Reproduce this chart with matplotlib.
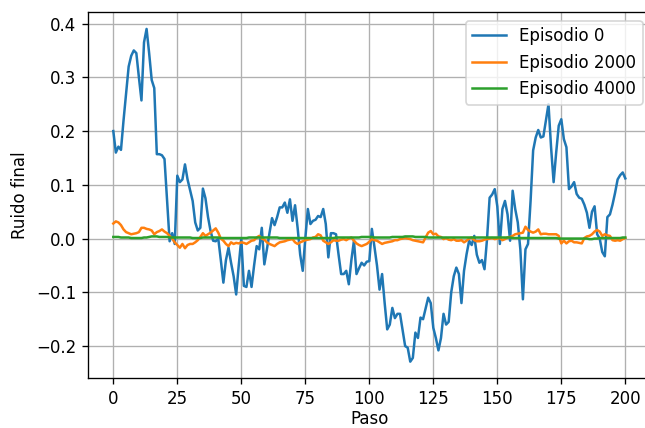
import numpy as np
from matplotlib import pyplot as plt

PASOS = np.arange(201)

RUIDO_EP0 = [
    0.200, 0.160, 0.171, 0.165, 0.220, 0.270, 0.320, 0.340, 0.350, 0.345,
    0.300, 0.257, 0.365, 0.390, 0.345, 0.295, 0.280, 0.157, 0.157, 0.155,
    0.148, 0.070, -0.005, 0.010, -0.010, 0.117, 0.105, 0.110, 0.138, 0.110,
    0.090, 0.070, 0.030, 0.015, 0.020, 0.093, 0.075, 0.040, 0.014, -0.004,
    -0.005, 0.000, -0.040, -0.082, -0.040, -0.017, -0.045, -0.070, -0.104, -0.050,
    0.000, -0.088, -0.090, -0.060, -0.090, -0.050, -0.014, -0.020, 0.020, -0.048,
    -0.020, 0.010, 0.038, 0.025, 0.040, 0.058, 0.058, 0.067, 0.048, 0.073,
    0.033, 0.062, 0.020, -0.030, -0.060, 0.000, 0.055, 0.027, 0.033, 0.035,
    0.042, 0.040, 0.055, 0.027, -0.035, 0.010, 0.010, 0.008, -0.030, -0.066,
    -0.066, -0.060, -0.085, -0.040, -0.004, -0.066, -0.055, -0.045, -0.050, -0.043,
    -0.042, 0.018, -0.015, -0.050, -0.095, -0.066, -0.120, -0.169, -0.160, -0.129,
    -0.148, -0.140, -0.140, -0.170, -0.200, -0.203, -0.229, -0.222, -0.175, -0.185,
    -0.147, -0.150, -0.130, -0.110, -0.120, -0.166, -0.185, -0.208, -0.185, -0.140,
    -0.160, -0.155, -0.100, -0.070, -0.054, -0.066, -0.120, -0.060, -0.029, -0.004,
    -0.012, 0.005, -0.030, -0.045, -0.040, -0.057, 0.000, 0.076, 0.082, 0.092,
    0.060, -0.010, 0.055, 0.070, 0.045, -0.004, 0.089, 0.055, 0.030, -0.020,
    -0.113, -0.020, -0.010, 0.070, 0.164, 0.188, 0.202, 0.188, 0.190, 0.220,
    0.250, 0.170, 0.105, 0.160, 0.210, 0.222, 0.185, 0.170, 0.092, 0.097,
    0.105, 0.083, 0.076, 0.074, 0.063, 0.048, 0.020, 0.050, 0.060, 0.008,
    0.000, -0.025, -0.033, 0.040, 0.045, 0.063, 0.085, 0.110, 0.118, 0.123,
    0.112,
]

RUIDO_EP2000 = [
    0.028, 0.032, 0.030, 0.025, 0.017, 0.012, 0.010, 0.008, 0.009, 0.010,
    0.012, 0.020, 0.020, 0.018, 0.017, 0.015, 0.008, 0.012, 0.014, 0.017,
    0.013, 0.010, 0.005, 0.000, -0.007, -0.012, -0.017, -0.010, -0.018, -0.012,
    -0.010, -0.010, -0.007, -0.003, 0.003, 0.010, 0.005, 0.008, 0.011, 0.015,
    0.019, 0.011, 0.000, -0.004, -0.010, -0.014, -0.007, -0.010, -0.008, -0.009,
    -0.007, -0.008, -0.010, -0.007, -0.004, -0.003, 0.002, 0.005, 0.000, -0.002,
    -0.007, -0.010, -0.012, -0.014, -0.010, -0.007, -0.006, -0.005, -0.003, -0.002,
    -0.001, -0.007, -0.010, -0.007, -0.005, -0.003, -0.002, -0.001, 0.002, 0.003,
    0.008, 0.006, -0.004, -0.007, -0.010, -0.007, -0.003, -0.004, -0.004, -0.002,
    -0.001, -0.003, 0.000, 0.002, -0.004, -0.009, -0.012, -0.014, -0.012, -0.010,
    -0.006, -0.001, -0.003, -0.004, -0.007, -0.010, -0.008, -0.007, -0.006, -0.005,
    -0.003, -0.003, -0.001, 0.000, 0.001, 0.000, -0.001, -0.003, -0.004, -0.005,
    -0.006, -0.007, 0.002, 0.011, 0.014, 0.008, 0.009, 0.004, 0.003, -0.001,
    0.001, -0.002, -0.003, -0.001, -0.004, -0.004, -0.003, -0.007, -0.004, 0.000,
    0.002, -0.003, -0.005, -0.005, -0.004, -0.002, -0.001, 0.000, 0.001, -0.001,
    0.000, 0.001, -0.003, -0.001, 0.002, 0.003, 0.005, 0.008, 0.009, 0.010,
    0.011, 0.022, 0.016, 0.013, 0.011, 0.013, 0.017, 0.008, 0.009, 0.009,
    0.008, 0.008, 0.008, 0.008, 0.005, -0.009, -0.004, -0.009, -0.005, -0.004,
    -0.007, -0.007, -0.008, -0.009, 0.001, 0.004, 0.005, 0.008, 0.013, 0.016,
    0.013, 0.005, 0.008, 0.006, 0.005, -0.003, -0.004, -0.003, -0.004, -0.001,
    0.001,
]

RUIDO_EP4000 = [
    0.003, 0.003, 0.003, 0.002, 0.002, 0.002, 0.002, 0.001, 0.001, 0.001,
    0.001, 0.001, 0.002, 0.002, 0.003, 0.004, 0.004, 0.004, 0.003, 0.003,
    0.003, 0.003, 0.002, 0.002, 0.002, 0.002, 0.002, 0.002, 0.002, 0.002,
    0.002, 0.001, 0.001, 0.001, 0.001, 0.002, 0.002, 0.002, 0.002, 0.002,
    0.002, 0.002, 0.001, 0.001, 0.001, 0.001, 0.001, 0.001, 0.001, 0.001,
    0.001, 0.001, 0.001, 0.002, 0.002, 0.002, 0.002, 0.002, 0.002, 0.002,
    0.002, 0.002, 0.002, 0.002, 0.002, 0.001, 0.001, 0.001, 0.001, 0.001,
    0.001, 0.001, 0.001, 0.001, 0.001, 0.001, 0.001, 0.001, 0.001, 0.001,
    0.001, 0.001, 0.001, 0.001, 0.001, 0.001, 0.001, 0.002, 0.002, 0.002,
    0.002, 0.002, 0.002, 0.002, 0.002, 0.002, 0.002, 0.003, 0.003, 0.003,
    0.003, 0.003, 0.002, 0.002, 0.002, 0.002, 0.002, 0.002, 0.002, 0.003,
    0.003, 0.003, 0.003, 0.003, 0.004, 0.004, 0.004, 0.004, 0.003, 0.003,
    0.003, 0.003, 0.003, 0.002, 0.002, 0.002, 0.002, 0.002, 0.002, 0.002,
    0.002, 0.002, 0.002, 0.002, 0.002, 0.002, 0.002, 0.002, 0.002, 0.002,
    0.002, 0.002, 0.002, 0.002, 0.002, 0.002, 0.002, 0.002, 0.002, 0.002,
    0.002, 0.002, 0.002, 0.002, 0.002, 0.002, 0.001, 0.001, 0.001, 0.001,
    0.001, 0.001, 0.001, 0.001, 0.001, 0.001, 0.001, 0.001, 0.001, 0.001,
    0.001, 0.001, 0.001, 0.001, 0.000, 0.000, 0.000, 0.000, 0.000, 0.000,
    0.000, 0.000, 0.000, 0.000, 0.000, 0.000, -0.001, -0.001, 0.000, 0.000,
    0.001, 0.001, 0.001, 0.001, 0.001, 0.001, 0.001, 0.001, 0.001, 0.002,
    0.002,
]

SERIES = [
    ("Episodio 0", RUIDO_EP0),
    ("Episodio 2000", RUIDO_EP2000),
    ("Episodio 4000", RUIDO_EP4000),
]


def main():
    fig = plt.figure(figsize=(645 / 120, 428 / 120), dpi=120)
    # the axes run a little past the right edge of the canvas
    ax = fig.add_axes([87.7 / 645, 49.7 / 428, 563.2 / 645, 366.0 / 428])

    for label, values in SERIES:
        ax.plot(PASOS, values, label=label)

    ax.set_xlabel("Paso", labelpad=1.0)
    ax.set_ylabel("Ruido final")
    ax.grid(True)
    ax.legend(loc="upper right")

    fig.savefig("out.png", dpi=120)


if __name__ == '__main__':
    main()
